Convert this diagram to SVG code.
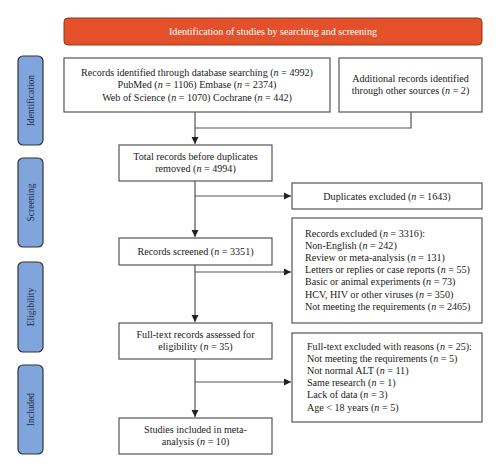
<svg xmlns="http://www.w3.org/2000/svg" width="500" height="472" viewBox="0 0 500 472">
<style>
.box{fill:#fff;stroke:#555;stroke-width:1.2}
.side{fill:#7fa5dc;stroke:#333;stroke-width:1.2}
.t{font-family:"Liberation Serif",serif;font-size:10.1px;fill:#1a1a1a}
.c{text-anchor:middle}
.st{font-family:"Liberation Serif",serif;font-size:9.5px;fill:#1f2a44;text-anchor:middle}
.ln{fill:none;stroke:#555;stroke-width:1.2}
</style>
<defs>
<marker id="ah" markerWidth="8" markerHeight="8" refX="7" refY="4" orient="auto" markerUnits="userSpaceOnUse">
<path d="M0,0.5 L7,4 L0,7.5 Z" fill="#222"/>
</marker>
</defs>
<g id="banner">
<rect x="64" y="18" width="418" height="27" rx="4" fill="#e4502a" stroke="#8a3a20" stroke-width="1"/>
<text x="273" y="34.5" class="c" font-family="Liberation Serif,serif" font-size="10.1" fill="#fff">Identification of studies by searching and screening</text>
</g>
<g id="side-identification">
<rect class="side" x="18" y="56" width="25" height="89" rx="5"/>
<text class="st" transform="translate(33.5,100.5) rotate(-90)">Identification</text>
</g>
<g id="side-screening">
<rect class="side" x="18" y="158" width="25" height="89" rx="5"/>
<text class="st" transform="translate(33.5,202.5) rotate(-90)">Screening</text>
</g>
<g id="side-eligibility">
<rect class="side" x="18" y="262" width="25" height="90" rx="5"/>
<text class="st" transform="translate(33.5,307) rotate(-90)">Eligibility</text>
</g>
<g id="side-included">
<rect class="side" x="18" y="365" width="25" height="89" rx="5"/>
<text class="st" transform="translate(33.5,409.5) rotate(-90)">Included</text>
</g>
<g id="connectors">
<line class="ln" x1="195" y1="112" x2="195" y2="144" marker-end="url(#ah)"/>
<polyline class="ln" points="411,112 411,128 195,128"/>
<line class="ln" x1="195" y1="181" x2="195" y2="237" marker-end="url(#ah)"/>
<line class="ln" x1="195" y1="196" x2="291" y2="196" marker-end="url(#ah)"/>
<line class="ln" x1="195" y1="265" x2="195" y2="322" marker-end="url(#ah)"/>
<line class="ln" x1="195" y1="272" x2="291" y2="272" marker-end="url(#ah)"/>
<line class="ln" x1="195" y1="359" x2="195" y2="417" marker-end="url(#ah)"/>
<line class="ln" x1="195" y1="382" x2="291" y2="382" marker-end="url(#ah)"/>
</g>
<g id="records-identified">
<rect class="box" x="64" y="58" width="266" height="54"/>
<text class="t c" x="197" y="76">Records identified through database searching (<tspan font-style="italic">n</tspan> = 4992)</text>
<text class="t c" x="197" y="88.3">PubMed (<tspan font-style="italic">n</tspan> = 1106) Embase (<tspan font-style="italic">n</tspan> = 2374)</text>
<text class="t c" x="197" y="100.6">Web of Science (<tspan font-style="italic">n</tspan> = 1070) Cochrane (<tspan font-style="italic">n</tspan> = 442)</text>
</g>
<g id="additional-records">
<rect class="box" x="339" y="58" width="143" height="54"/>
<text class="t c" x="410.5" y="81.5">Additional records identified</text>
<text class="t c" x="410.5" y="93.5">through other sources (<tspan font-style="italic">n</tspan> = 2)</text>
</g>
<g id="total-records">
<rect class="box" x="119" y="145" width="153" height="36"/>
<text class="t c" x="195.5" y="159.5">Total records before duplicates</text>
<text class="t c" x="195.5" y="171.5">removed (<tspan font-style="italic">n</tspan> = 4994)</text>
</g>
<g id="duplicates">
<rect class="box" x="292" y="183" width="190" height="26"/>
<text class="t c" x="387" y="199.5">Duplicates excluded (<tspan font-style="italic">n</tspan> = 1643)</text>
</g>
<g id="records-screened">
<rect class="box" x="119" y="238" width="153" height="27"/>
<text class="t c" x="195.5" y="254.5">Records screened (<tspan font-style="italic">n</tspan> = 3351)</text>
</g>
<g id="records-excluded">
<rect class="box" x="292" y="218" width="190" height="105"/>
<text class="t" x="305" y="236.5">Records excluded (<tspan font-style="italic">n</tspan> = 3316):</text>
<text class="t" x="305" y="248.7">Non-English (<tspan font-style="italic">n</tspan> = 242)</text>
<text class="t" x="305" y="260.9">Review or meta-analysis (<tspan font-style="italic">n</tspan> = 131)</text>
<text class="t" x="305" y="273.1">Letters or replies or case reports (<tspan font-style="italic">n</tspan> = 55)</text>
<text class="t" x="305" y="285.3">Basic or animal experiments (<tspan font-style="italic">n</tspan> = 73)</text>
<text class="t" x="305" y="297.5">HCV, HIV or other viruses (<tspan font-style="italic">n</tspan> = 350)</text>
<text class="t" x="305" y="309.7">Not meeting the requirements (<tspan font-style="italic">n</tspan> = 2465)</text>
</g>
<g id="full-text">
<rect class="box" x="119" y="323" width="153" height="36"/>
<text class="t c" x="195.5" y="337.5">Full-text records assessed for</text>
<text class="t c" x="195.5" y="350">eligibility (<tspan font-style="italic">n</tspan> = 35)</text>
</g>
<g id="full-text-excluded">
<rect class="box" x="292" y="333" width="190" height="89"/>
<text class="t" x="307" y="349.5">Full-text excluded with reasons (<tspan font-style="italic">n</tspan> = 25):</text>
<text class="t" x="307" y="361.7">Not meeting the requirements (<tspan font-style="italic">n</tspan> = 5)</text>
<text class="t" x="307" y="373.9">Not normal ALT (<tspan font-style="italic">n</tspan> = 11)</text>
<text class="t" x="307" y="386.1">Same research (<tspan font-style="italic">n</tspan> = 1)</text>
<text class="t" x="307" y="398.3">Lack of data (<tspan font-style="italic">n</tspan> = 3)</text>
<text class="t" x="307" y="410.5">Age &lt; 18 years (<tspan font-style="italic">n</tspan> = 5)</text>
</g>
<g id="studies-included">
<rect class="box" x="119" y="418" width="153" height="36"/>
<text class="t c" x="195.5" y="432.5">Studies included in meta-</text>
<text class="t c" x="195.5" y="445">analysis (<tspan font-style="italic">n</tspan> = 10)</text>
</g>
</svg>
